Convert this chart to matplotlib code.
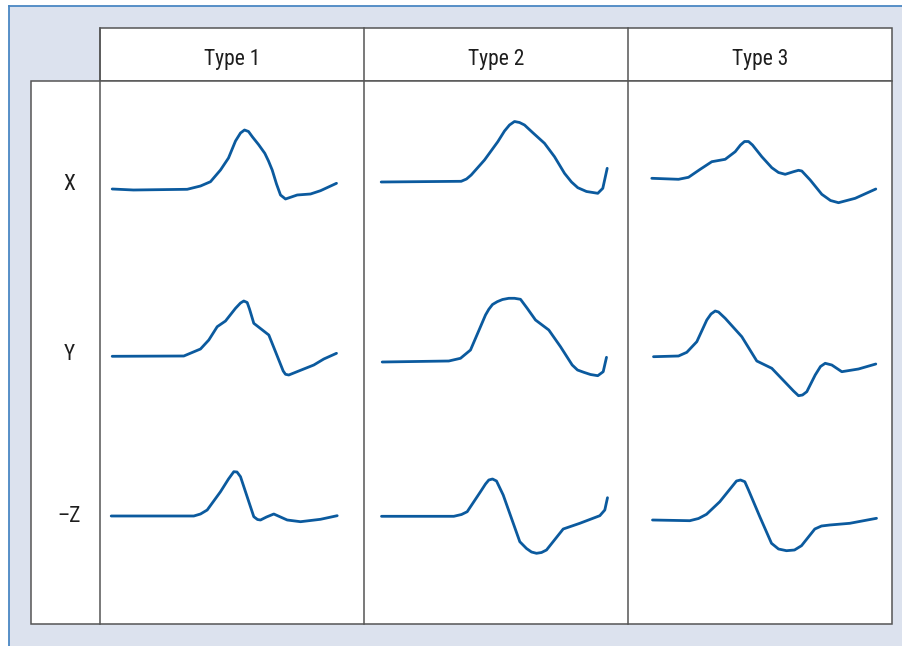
import matplotlib.pyplot as plt
from matplotlib.patches import Rectangle

plt.rcParams["font.family"] = ["Roboto Condensed", "Archivo Narrow", "PT Sans Narrow",
                               "Fira Sans Condensed", "Liberation Sans", "DejaVu Sans"]

W, H = 903, 646

col_labels = ["Type 1", "Type 2", "Type 3"]
row_labels = ["X", "Y", "\u2013Z"]

# each curve: t = horizontal offset inside its cell (px), v = height above the row reference (px)
curves = {
    ("X", 0): (
        [11.7, 33, 86.7, 100, 110, 120, 128, 135, 140, 144, 148, 152, 158, 164.3, 168, 171.7, 176, 180, 185, 196.7, 210, 220, 236],
        [-4, -5, -4.3, -1, 3.3, 15, 27, 44, 52, 55, 53.5, 48, 40.5, 31.7, 24, 15, 1, -10, -14, -10, -9, -5.7, 1.7],
    ),
    ("X", 1): (
        [16.7, 96.7, 102, 106.7, 120, 133.3, 140, 145, 150, 155, 160, 168.3, 180, 190, 200, 207, 213.3, 222, 233.3, 238.3, 242.7],
        [3, 3.7, 6, 10, 25, 43.3, 54, 60, 63.5, 62.5, 60, 52.3, 41.7, 28.3, 11.7, 3, -2.7, -6.5, -8.3, -3.3, 16.7],
    ),
    ("X", 2): (
        [23.3, 50, 60, 71.7, 83.3, 96.7, 106.7, 112, 116, 120, 124, 133.3, 143.3, 150, 156.7, 165, 170, 173.3, 181.7, 193.3, 202, 210, 226.7, 247.3],
        [6.7, 5.7, 7.7, 15.7, 23.3, 25.7, 33.3, 40, 43.5, 43.5, 40, 28.3, 17.3, 12.5, 10.7, 13.3, 14.7, 14, 5, -9.3, -15.5, -17.7, -13.3, -4],
    ),
    ("Y", 0): (
        [11.7, 83.3, 100, 108.3, 116.7, 125, 135, 140, 143.3, 146.7, 149, 153.3, 168.3, 175, 182.7, 185, 188.3, 200, 213.3, 223.3, 236],
        [-2.3, -2, 5, 14, 27.3, 33, 45.7, 51, 53, 51.5, 45, 30.7, 19, 2.3, -17, -20.3, -21, -16.3, -11, -5, 0.7],
    ),
    ("Y", 1): (
        [17.7, 84.3, 96, 106, 116, 121, 124.3, 128, 132.7, 138, 144.3, 150, 156, 162.7, 171, 184.3, 196, 207.7, 213, 219.3, 226, 233.3, 238.7, 242],
        [-8, -7, -4.3, 4, 27.3, 39, 44.7, 49.5, 52.3, 54.5, 55.7, 55.7, 54.7, 45.7, 34, 24, 7.3, -11, -16, -18.3, -20.5, -21.7, -17.7, -3.3],
    ),
    ("Y", 2): (
        [25, 50, 58.3, 68.3, 78.3, 82.5, 86.7, 90, 96.7, 113.3, 128.3, 143.3, 156.7, 165, 170, 174, 178.3, 186.7, 192, 196.7, 203.3, 213.3, 230, 247.3],
        [-2.7, -2, 1.7, 12.3, 34, 40, 43, 42, 35.7, 17.3, -7, -14.3, -28.3, -37, -41.7, -41, -37.7, -21, -12.5, -9.3, -11, -17.7, -15, -10],
    ),
    ("Z", 0): (
        [10.7, 93.3, 100, 106.7, 120, 128, 133.3, 136.5, 140, 148.3, 153.3, 157, 160, 166, 173.3, 186.7, 200, 220, 236.7],
        [0, 0, 2, 6, 24.3, 37, 44.3, 44, 39.3, 14.3, -0.7, -3.5, -4, -1, 2, -4, -5.7, -3.3, 0.3],
    ),
    ("Z", 1): (
        [17, 89.3, 97, 102.7, 116, 121, 124.3, 128, 132, 138.7, 155.3, 162, 167, 172, 177, 182, 198.7, 215.3, 235.3, 240.3, 243],
        [-0.3, -0.3, 1.5, 4.3, 24.3, 32, 36, 37, 35, 21, -25.7, -32.5, -36, -37.3, -36.5, -34, -13, -7.3, 0.3, 6, 18.3],
    ),
    ("Z", 2): (
        [24, 61.3, 70, 78, 91.3, 108, 112, 116.3, 120, 131.3, 143, 150, 158, 166, 173, 186.3, 193, 201.3, 221.3, 248],
        [-4, -4.7, -2.5, 1.7, 14.3, 35, 36, 34.3, 26, -0.7, -27.3, -33, -34.7, -34, -29.7, -13, -10, -9, -7.3, -2.3],
    ),
}

bg = "#dce2ee"
frame_blue = "#4a87c3"
grid = "#555555"
curve_col = "#0b5a9e"
text_col = "#1e1e1e"

col_x = [100.5, 364.5, 628.5, 892.5]
row_ref = [185, 354, 516]
head_top, head_bot, body_bot, body_left = 28, 80.5, 623.5, 31

fig = plt.figure(figsize=(W / 100, H / 100), dpi=100)
fig.patch.set_facecolor(bg)

base = fig.add_axes([0, 0, 1, 1])
base.set_xlim(0, W)
base.set_ylim(H, 0)
base.axis("off")

# white margin left of / above the blue frame
base.add_patch(Rectangle((-5, -5), 14, H + 10, facecolor="white", edgecolor="none",
                         zorder=0, clip_on=False))
base.add_patch(Rectangle((-5, -5), W + 10, 11, facecolor="white", edgecolor="none",
                         zorder=0, clip_on=False))
base.plot([9, 9], [6, H + 5], color=frame_blue, lw=1.3, zorder=1, clip_on=False)
base.plot([9, W + 5], [6, 6], color=frame_blue, lw=1.3, zorder=1, clip_on=False)

base.add_patch(Rectangle((col_x[0], head_top), col_x[-1] - col_x[0], head_bot - head_top,
                         facecolor="white", edgecolor=grid, lw=1.1, zorder=2))
base.add_patch(Rectangle((body_left, head_bot), col_x[-1] - body_left, body_bot - head_bot,
                         facecolor="white", edgecolor=grid, lw=1.1, zorder=2))
for x in col_x[:-1]:
    base.plot([x, x], [head_top, body_bot], color=grid, lw=1.1, zorder=3)

for i, lab in enumerate(col_labels):
    base.text((col_x[i] + col_x[i + 1]) / 2, 60, lab, ha="center", va="center",
              fontsize=15.5, color=text_col, zorder=4)
for j, lab in enumerate(row_labels):
    base.text(69, row_ref[j], lab, ha="center", va="center", fontsize=15.5,
              color=text_col, zorder=4)

keys = ["X", "Y", "Z"]
for j, k in enumerate(keys):
    for i in range(3):
        t, v = curves[(k, i)]
        ax = fig.add_axes([col_x[i] / W, 1 - (row_ref[j] + 90) / H, 264 / W, 180 / H])
        ax.set_xlim(0, 264)
        ax.set_ylim(-90, 90)
        ax.axis("off")
        ax.patch.set_alpha(0)
        ax.plot(t, v, color=curve_col, lw=2.0, solid_joinstyle="round", solid_capstyle="round")

fig.savefig("out.png", dpi=100)
